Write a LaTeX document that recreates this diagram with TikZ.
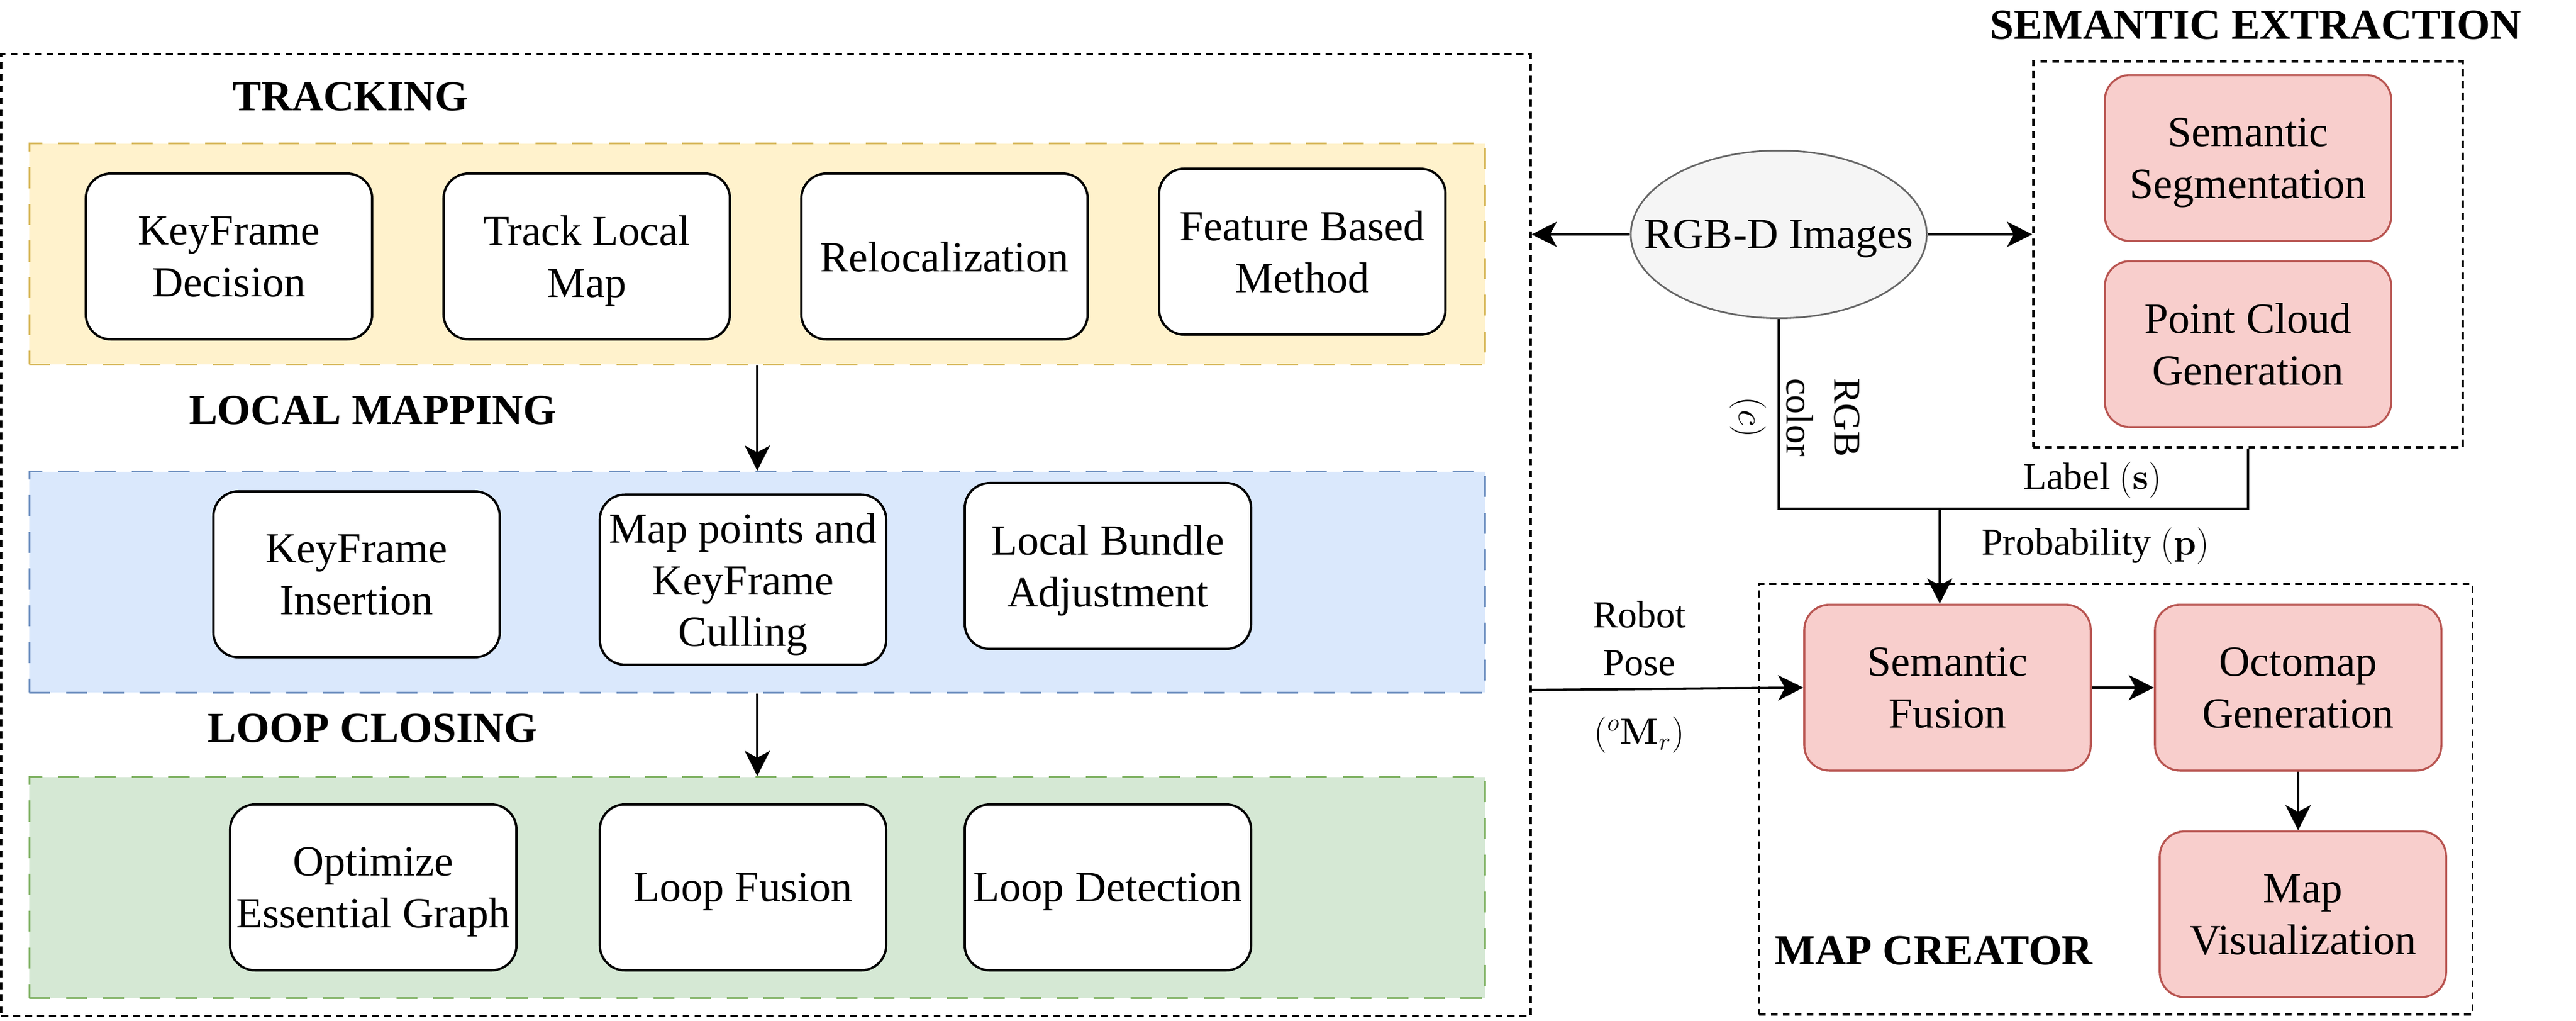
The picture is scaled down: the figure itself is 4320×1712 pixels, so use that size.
\documentclass[tikz,border=0pt]{standalone}
\usepackage{amsmath}
\usepackage{amssymb}
\usepackage[no-math]{fontspec}
\setmainfont{Liberation Serif}
\usepackage{tikz}
\usetikzlibrary{arrows.meta}
\usetikzlibrary{shapes.geometric}
\usetikzlibrary{positioning}
\definecolor{trkfill}{HTML}{FFF2CC}
\definecolor{trkline}{HTML}{D6B656}
\definecolor{lmfill}{HTML}{DAE8FC}
\definecolor{lmline}{HTML}{6C8EBF}
\definecolor{lcfill}{HTML}{D5E8D4}
\definecolor{lcline}{HTML}{82B366}
\definecolor{semfill}{HTML}{F8CECC}
\definecolor{semline}{HTML}{B85450}
\definecolor{imgfill}{HTML}{F5F5F5}
\definecolor{imgline}{HTML}{666666}
\tikzset{proc/.style = {draw, fill=white, rounded corners=0.42cm, line width=1.1pt, align=center,
    minimum width=4.8cm, minimum height=2.78cm, inner sep=1pt, text depth=0pt,
    font=\fontsize{20.5}{24.7}\selectfont}}
\tikzset{sem/.style = {proc, draw=semline, fill=semfill, line width=0.95pt}}
\tikzset{band/.style = {draw, line width=0.9pt, dash pattern=on 10pt off 7.5pt,
    minimum width=24.4cm, minimum height=3.7cm}}
\tikzset{frame/.style = {draw, line width=1pt, dash pattern=on 3.3pt off 2.4pt}}
\tikzset{title/.style = {inner sep=0, font=\fontsize{20.4}{25}\selectfont\bfseries}}
\tikzset{lbl/.style = {inner sep=0, align=center, font=\fontsize{18.2}{22.7}\selectfont}}
\tikzset{flow/.style = {-{Stealth[length=12pt, width=12pt, inset=3.2pt]}, line width=1.15pt}}

\begin{document}
\begin{tikzpicture}[x=0.01cm, y=-0.01cm] % pixel grid, y downwards
      \useasboundingbox (0, 0) rectangle (4320, 1712);

      \node [frame, minimum width=25.63cm, minimum height=16.12cm] (slam) at (1284.5, 897) {};
      \node [frame, minimum width=7.2cm, minimum height=6.47cm] (semex) at (3770, 426.5) {};
      \node [frame, minimum width=11.96cm, minimum height=7.22cm] (mapcr) at (3548, 1340) {};

      \node [band, draw=trkline, fill=trkfill] (trk) at (1270, 426) {};
      \node [band, draw=lmline, fill=lmfill] (lmap) at (1270, 976) {};
      \node [band, draw=lcline, fill=lcfill] (lclose) at (1270, 1488) {};

      \node [title] (trktitle) at (588, 162) {TRACKING};
      \node [title] (lmtitle) at (625, 688) {LOCAL MAPPING};
      \node [title] (lctitle) at (625, 1221) {LOOP CLOSING};
      \node [title] (setitle) at (3783, 42) {SEMANTIC EXTRACTION};
      \node [title] (mctitle) at (3243, 1594) {MAP CREATOR};

      \node [proc] (kfd) at (384, 430) {KeyFrame\\Decision};
      \node [proc] (tlm) at (984, 430) {Track Local\\Map};
      \node [proc] (reloc) at (1584, 430) {Relocalization};
      \node [proc] (fbm) at (2184, 422) {Feature Based\\Method};

      \node [proc] (kfi) at (598, 963) {KeyFrame\\Insertion};
      \node [proc, minimum height=2.85cm] (mpc) at (1246, 972) {Map points and\\KeyFrame\\Culling};
      \node [proc] (lba) at (1858, 949) {Local Bundle\\Adjustment};

      \node [proc] (oeg) at (626, 1488) {Optimize\\Essential Graph};
      \node [proc] (lf) at (1246, 1488) {Loop Fusion};
      \node [proc] (ld) at (1858, 1488) {Loop Detection};

      \node [draw=imgline, fill=imgfill, ellipse, line width=0.8pt, inner xsep=-0.5cm, inner ysep=0,
        text depth=0pt, minimum width=4.96cm, minimum height=2.81cm,
        font=\fontsize{20.5}{24.7}\selectfont] (rgbd) at (2983, 393) {RGB-D Images};

      \node [sem] (semseg) at (3770, 265) {Semantic\\Segmentation};
      \node [sem] (pcg) at (3770, 577) {Point Cloud\\Generation};

      \node [sem] (semfus) at (3266, 1153) {Semantic\\Fusion};
      \node [sem] (octo) at (3854, 1153) {Octomap\\Generation};
      \node [sem] (mapvis) at (3862, 1533) {Map\\Visualization};

      \draw [flow] (trk.south) -- (lmap.north);
      \draw [flow] (lmap.south) -- (lclose.north);

      \draw [flow] (rgbd.west) -- (rgbd.west -| slam.east);
      \draw [flow] (rgbd.east) -- (rgbd.east -| semex.west);

      \coordinate (merge) at (3253, 853);
      \draw [line width=1.15pt] (rgbd.south) |- (merge) -| (semex.south);
      \draw [flow] (merge) -- (merge |- semfus.north);
      \node [lbl, rotate=-90] (lblc) at (3010, 700) {RGB\\color\\$(c)$};
      \node [lbl] (lbls) at (3509, 805) {Label $(\mathbf{s})$};
      \node [lbl] (lblp) at (3514, 915) {Probability $(\mathbf{p})$};

      \coordinate (poseA) at (2566, 1157);
      \draw [flow] (poseA) -- (semfus.west)
        node [lbl, pos=0.4, above=0.2cm] (posetxt) {Robot\\Pose}
        node [lbl, pos=0.4, below=0.45cm] (posemath) {$({}^{o}\mathbf{M}_r)$};

      \draw [flow] (semfus.east) -- (octo.west);
      \draw [flow] (octo.south) -- (octo.south |- mapvis.north);
    \end{tikzpicture}
\end{document}
